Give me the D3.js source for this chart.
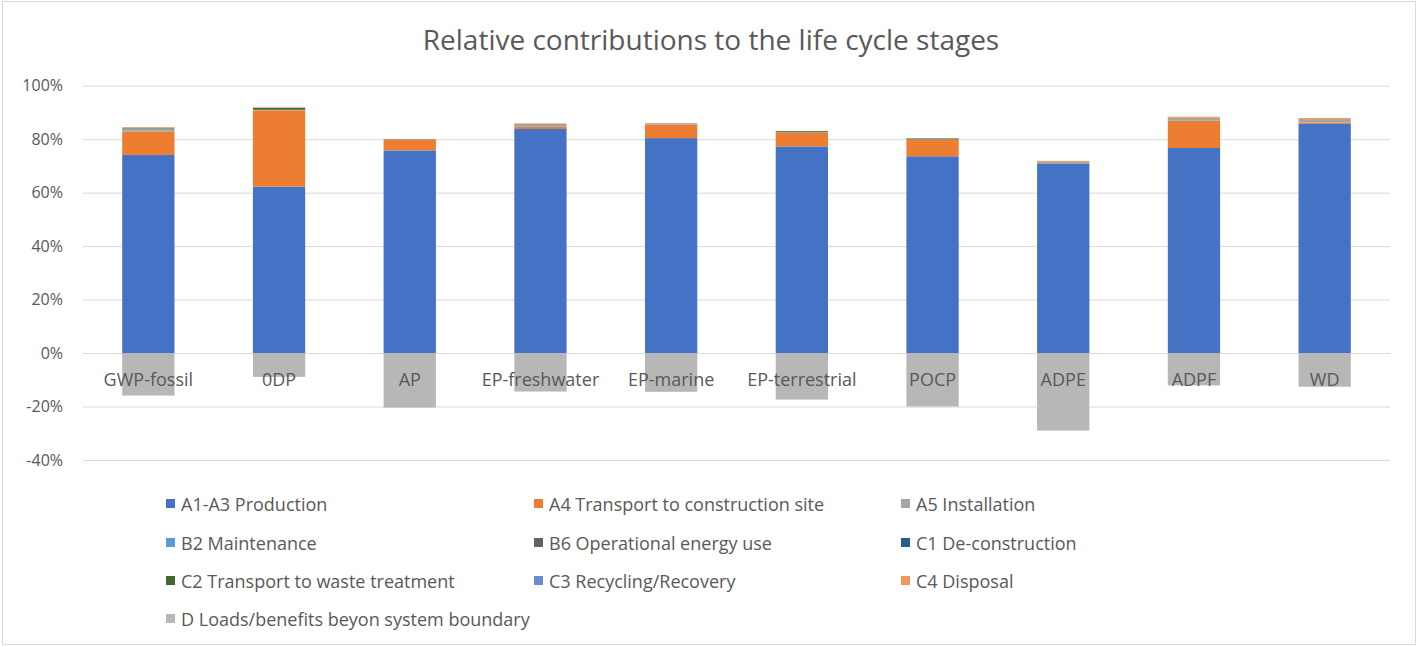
<!DOCTYPE html>
<html>
<head>
<meta charset="utf-8">
<script src="https://cdn.jsdelivr.net/npm/d3@7"></script>
<style>
  body { margin: 0; background: #fff; }
  text { font-family: "Open Sans", sans-serif; fill: #595959; }
</style>
</head>
<body>
<div class="chart"></div>
<script>
// Chart data (values in %)
var categories = ["GWP-fossil", "0DP", "AP", "EP-freshwater", "EP-marine", "EP-terrestrial", "POCP", "ADPE", "ADPF", "WD"];

var seriesNames = ["A1-A3 Production", "A4 Transport to construction site", "A5 Installation",
    "B2 Maintenance", "B6 Operational energy use", "C1 De-construction",
    "C2 Transport to waste treatment", "C3 Recycling/Recovery", "C4 Disposal",
    "D Loads/benefits beyon system boundary"];

var a1a3 = [74.1, 62.2, 75.8, 83.8, 80.4, 77.3, 73.6, 70.9, 76.7, 85.7];
var a4   = [8.7, 28.6, 3.9, 0.8, 5.0, 5.0, 6.1, 0.2, 10.2, 0.5];
var a5   = [1.2, 0.2, 0.2, 1.0, 0.4, 0.3, 0.2, 0.5, 1.0, 1.2];
var b2   = [0, 0, 0, 0, 0, 0, 0, 0, 0, 0];
var b6   = [0, 0, 0, 0, 0, 0, 0, 0, 0, 0];
var c1   = [0, 0, 0, 0, 0, 0, 0, 0, 0, 0];
var c2   = [0.2, 0.7, 0.1, 0.1, 0.1, 0.4, 0.4, 0.1, 0.1, 0.1];
var c3   = [0, 0, 0, 0, 0, 0, 0, 0, 0, 0];
var c4   = [0.3, 0.2, 0.1, 0.2, 0.1, 0.1, 0.1, 0.2, 0.4, 0.4];
var dVal = [-15.9, -8.9, -20.4, -14.4, -14.5, -17.4, -20.0, -29.0, -12.1, -12.6];

var yTicks = [-40, -20, 0, 20, 40, 60, 80, 100];

var colors = ["#4472C4", "#ED7D31", "#A5A5A5", "#5B9BD5", "#636363", "#255E91",
    "#43682B", "#698ED0", "#F1975A", "#B7B7B7"];

var allSeries = [a1a3, a4, a5, b2, b6, c1, c2, c3, c4, dVal];

// build rows for d3.stack
var rows = categories.map(function(cat, i) {
    var row = { category: cat };
    seriesNames.forEach(function(name, s) { row[name] = allSeries[s][i]; });
    return row;
});

var svgWidth = 1421;
var svgHeight = 647;

var svg = d3.select(".chart")
    .append("svg")
    .attr("width", svgWidth)
    .attr("height", svgHeight);

// outer border
svg.append("rect")
    .attr("x", 2.5).attr("y", 1.5)
    .attr("width", 1413).attr("height", 643)
    .attr("fill", "#fff")
    .attr("stroke", "#d9d9d9");

svg.append("text")
    .attr("x", 711)
    .attr("y", 50)
    .attr("text-anchor", "middle")
    .attr("font-size", "28px")
    .text("Relative contributions to the life cycle stages");

var xScale = d3.scaleBand()
    .domain(categories)
    .range([83, 1390])
    .paddingInner(0.6)
    .paddingOuter(0.3);

var yScale = d3.scaleLinear()
    .domain([-40, 100])
    .range([460, 85.7]);

// gridlines + tick labels
var leftAxis = d3.axisLeft(yScale)
    .tickValues(yTicks)
    .tickSize(-(1390 - 83))
    .tickPadding(20)
    .tickFormat(function(d) { return d + "%"; });

var gAxis = svg.append("g")
    .attr("transform", "translate(83,0)")
    .call(leftAxis);
gAxis.select(".domain").remove();
gAxis.selectAll(".tick line").attr("stroke", "#d9d9d9");
gAxis.selectAll(".tick text")
    .attr("font-size", "16px")
    .attr("font-family", "Open Sans, sans-serif")
    .attr("fill", "#595959")
    .attr("x", -20);

var stack = d3.stack()
    .keys(seriesNames)
    .offset(d3.stackOffsetDiverging);

var stacked = stack(rows);

var chart = svg.append("g");

chart.selectAll("g.series")
    .data(stacked)
    .enter()
    .append("g")
    .attr("class", "series")
    .attr("fill", function(d, i) { return colors[i]; })
    .selectAll("rect")
    .data(function(d) { return d; })
    .enter()
    .append("rect")
    .attr("x", function(d) { return xScale(d.data.category); })
    .attr("width", xScale.bandwidth())
    .attr("y", function(d) { return yScale(Math.max(d[0], d[1])); })
    .attr("height", function(d) { return Math.abs(yScale(d[0]) - yScale(d[1])); });

// category labels next to the zero line
var bottomAxis = d3.axisBottom(xScale).tickSize(0).tickPadding(20);
var gx = svg.append("g")
    .attr("transform", "translate(0," + yScale(0) + ")")
    .call(bottomAxis);
gx.select(".domain").remove();
gx.selectAll(".tick text")
    .attr("font-size", "18px")
    .attr("font-family", "Open Sans, sans-serif")
    .attr("fill", "#595959");

// legend
var legendCols = [166, 534, 901];
var legendRows = [504, 543, 581, 619];

var legend = svg.selectAll("g.legend")
    .data(seriesNames)
    .enter()
    .append("g")
    .attr("class", "legend")
    .attr("transform", function(d, i) {
        return "translate(" + legendCols[i % 3] + "," + legendRows[Math.floor(i / 3)] + ")";
    });

legend.append("rect")
    .attr("x", 0).attr("y", -5)
    .attr("width", 9).attr("height", 9)
    .attr("fill", function(d, i) { return colors[i]; });

legend.append("text")
    .attr("x", 15)
    .attr("y", 6.5)
    .attr("font-size", "18px")
    .text(function(d) { return d; });
</script>
</body>
</html>
